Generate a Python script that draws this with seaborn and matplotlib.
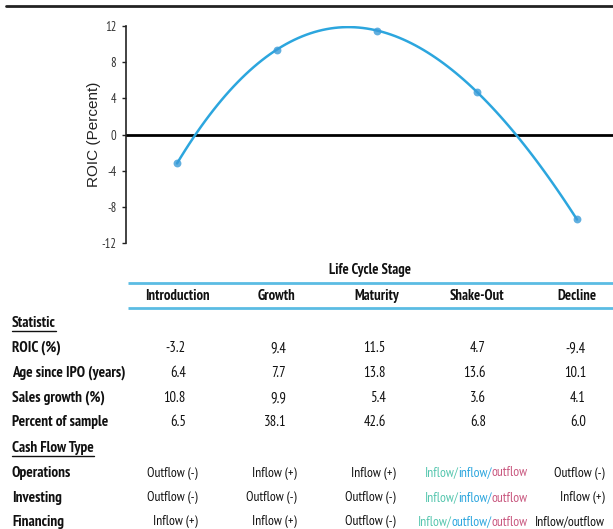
import numpy as np
import pandas as pd
import matplotlib
matplotlib.use("Agg")
import matplotlib.pyplot as plt
from matplotlib.lines import Line2D
import seaborn as sns

# ---------------- data ----------------
stages = ["Introduction", "Growth", "Maturity", "Shake-Out", "Decline"]
roic = [-3.2, 9.4, 11.5, 4.7, -9.4]
age_since_ipo = [6.4, 7.7, 13.8, 13.6, 10.1]
sales_growth = [10.8, 9.9, 5.4, 3.6, 4.1]
pct_sample = [6.5, 38.1, 42.6, 6.8, 6.0]
stat_labels = ["ROIC (%)", "Age since IPO (years)", "Sales growth (%)", "Percent of sample"]
cf_labels = ["Operations", "Investing", "Financing"]
operations = ["Outflow (-)", "Inflow (+)", "Inflow (+)", ["Inflow/", "inflow/", "outflow"], "Outflow (-)"]
investing = ["Outflow (-)", "Outflow (-)", "Outflow (-)", ["Inflow/", "inflow/", "outflow"], "Inflow (+)"]
financing = ["Inflow (+)", "Inflow (+)", "Outflow (-)", ["Inflow/", "outflow/", "outflow"], "Inflow/outflow"]
yticks = [-12, -8, -4, 0, 4, 8, 12]

# ---------------- style ----------------
sns.set_theme(style="white")
NARROW = ["PT Sans Narrow", "DejaVu Sans"]
plt.rcParams["font.family"] = NARROW
plt.rcParams["axes.unicode_minus"] = False

W, H = 613, 529
fig = plt.figure(figsize=(W / 100, H / 100), dpi=100)
fig.patch.set_facecolor("white")

BLUE = "#2ca6de"
MARK = "#3a9bd8"
MIX_COLORS = ["#55c6ae", "#2ca6de", "#c9577f"]
TXT = "#111111"

def fx(px):
    return px / W

def fy(py):
    return 1 - py / H

# ---------------- chart ----------------
ax_l, ax_r, ax_t, ax_b = 126, 613, 26, 243
ax = fig.add_axes([fx(ax_l), fy(ax_b), fx(ax_r - ax_l), (ax_b - ax_t) / H])
df = pd.DataFrame({"stage_idx": np.arange(len(stages)), "roic": roic})
sns.regplot(data=df, x="stage_idx", y="roic", order=4, ci=None, truncate=True,
            ax=ax, color=BLUE,
            scatter_kws=dict(s=32, color=MARK, zorder=4, clip_on=False, linewidths=0),
            line_kws=dict(lw=1.8, color=BLUE, zorder=3))
ax.axhline(0, color="black", lw=2, zorder=2)
ax.set_xlim(-0.51, 4.36)
ax.set_ylim(-12, 12)
ax.set_yticks(yticks)
ax.set_yticklabels([str(v) for v in yticks])
ax.set_xticks([])
ax.set_xlabel("")
ax.set_ylabel("ROIC (Percent)", family=["Liberation Sans", "DejaVu Sans"], fontsize=11,
              color="#222222", labelpad=0)
for s in ["top", "right", "bottom"]:
    ax.spines[s].set_visible(False)
ax.spines["left"].set_color("#222222")
ax.spines["left"].set_linewidth(1.2)
ax.tick_params(axis="y", direction="out", length=3, width=1, color="#222222",
               labelsize=9, labelcolor="#333333", pad=4, left=True)
ax.patch.set_alpha(0)

# top rule
fig.add_artist(Line2D([0.01, 1], [fy(6), fy(6)], transform=fig.transFigure,
                      color="#222222", lw=2))

# ---------------- table ----------------
tax = fig.add_axes([0, 0, 1, 1])
tax.set_xlim(-1.77, 4.36)
tax.set_ylim(H, 0)
tax.axis("off")
tax.patch.set_alpha(0)

label_x = -1.65
FS = 10.5
FS_LAB = 11
FS_CF = 9.7
y_title, y_line1, y_head, y_line2 = 270, 283, 296, 308
y_stat = 323
y_rows = [348, 373, 398, 422]
y_cft = 448
y_cf = [473, 498, 522]

tax.text(1.93, y_title, "Life Cycle Stage", ha="center", va="center", fontsize=FS,
         fontweight="bold", color=TXT)
line_x0 = -1.77 + 128 / 100
for yy in (y_line1, y_line2):
    tax.plot([line_x0, 4.36], [yy, yy], color="#5bbce3", lw=2, solid_capstyle="butt")
for i, st in enumerate(stages):
    tax.text(i, y_head, st, ha="center", va="center", fontsize=FS, fontweight="bold",
             color=TXT)

under_texts = []
under_texts.append(tax.text(label_x, y_stat, "Statistic", ha="left", va="center",
                            fontsize=FS_LAB, fontweight="bold", color=TXT))
for lab, yy, vals in zip(stat_labels, y_rows, [roic, age_since_ipo, sales_growth, pct_sample]):
    tax.text(label_x, yy, lab, ha="left", va="center", fontsize=FS_LAB, fontweight="bold",
             color=TXT)
    for i, v in enumerate(vals):
        tax.text(i + 0.09, yy, f"{v:.1f}", ha="right", va="center", fontsize=FS,
                 color=TXT)

under_texts.append(tax.text(label_x, y_cft, "Cash Flow Type", ha="left", va="center",
                            fontsize=FS_LAB, fontweight="bold", color=TXT))

fig.canvas.draw()
r = fig.canvas.get_renderer()

def text_width(s, size):
    t = tax.text(0, 0, s, fontsize=size)
    w = t.get_window_extent(r).width
    t.remove()
    x0 = tax.transData.inverted().transform((0, 0))[0]
    x1 = tax.transData.inverted().transform((w, 0))[0]
    return x1 - x0

cf_right = [0.21, 1.20, 2.19, 3.51, 4.28]
for lab, yy, vals in zip(cf_labels, y_cf, [operations, investing, financing]):
    tax.text(label_x, yy, lab, ha="left", va="center", fontsize=FS_LAB, fontweight="bold",
             color=TXT)
    for i, v in enumerate(vals):
        if isinstance(v, list):
            left = cf_right[i] - text_width("".join(v), FS_CF)
            for k, piece in enumerate(v):
                xk = left + (text_width("".join(v[:k]) + piece[0], FS_CF)
                             - text_width(piece[0], FS_CF) if k > 0 else 0.0)
                tax.text(xk, yy, piece, ha="left", va="center", fontsize=FS_CF,
                         color=MIX_COLORS[k])
        else:
            tax.text(cf_right[i], yy, v, ha="right", va="center", fontsize=FS_CF,
                     color=TXT)

inv = tax.transData.inverted()
for t in under_texts:
    bb = t.get_window_extent(r)
    (x0, y0) = inv.transform((bb.x0, bb.y0))
    (x1, _) = inv.transform((bb.x1, bb.y0))
    tax.plot([x0, x1], [y0 + 1, y0 + 1], color=TXT, lw=1)

fig.savefig("out.png", dpi=100, facecolor="white")
